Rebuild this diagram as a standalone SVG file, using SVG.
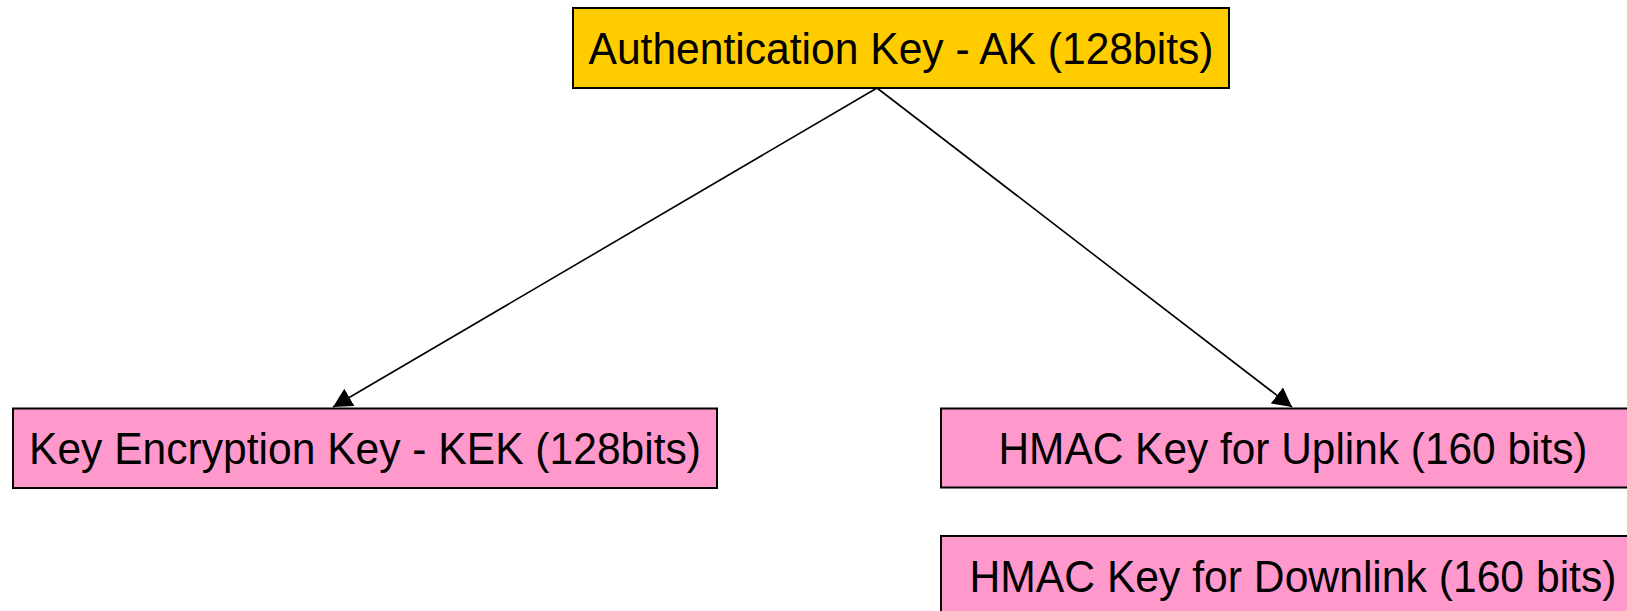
<svg xmlns="http://www.w3.org/2000/svg" width="1627" height="611" viewBox="0 0 1627 611">
<style>
.box{stroke:#000;stroke-width:2}
.ak{fill:#FFCC00}
.pk{fill:#FF99CC}
.lbl{font-family:"Liberation Sans",Arial,sans-serif;font-size:43.5px;fill:#000;text-anchor:middle}
.edge{stroke:#000;stroke-width:1.6;fill:none}
</style>
<defs>
<marker id="arrow" viewBox="0 0 19 20" refX="19" refY="10" markerWidth="19" markerHeight="20" markerUnits="userSpaceOnUse" orient="auto">
<path d="M0,0 L19,10 L0,20 z" fill="#000"/>
</marker>
</defs>
<g id="connectors">
<line class="edge" x1="877" y1="88" x2="333" y2="407" marker-end="url(#arrow)"/>
<line class="edge" x1="877" y1="88" x2="1292" y2="407" marker-end="url(#arrow)"/>
</g>
<g id="ak">
<rect class="box ak" x="573" y="8" width="656" height="80"/>
<text class="lbl" x="901" y="64" textLength="625" lengthAdjust="spacingAndGlyphs">Authentication Key - AK (128bits)</text>
</g>
<g id="kek">
<rect class="box pk" x="13" y="408.5" width="704" height="79.5"/>
<text class="lbl" x="365" y="464" textLength="672" lengthAdjust="spacingAndGlyphs">Key Encryption Key - KEK (128bits)</text>
</g>
<g id="hmac-up">
<rect class="box pk" x="941" y="408.5" width="704" height="79"/>
<text class="lbl" x="1293" y="464" textLength="589" lengthAdjust="spacingAndGlyphs">HMAC Key for Uplink (160 bits)</text>
</g>
<g id="hmac-down">
<rect class="box pk" x="941" y="536" width="704" height="90"/>
<text class="lbl" x="1293" y="592" textLength="647" lengthAdjust="spacingAndGlyphs">HMAC Key for Downlink (160 bits)</text>
</g>
</svg>
